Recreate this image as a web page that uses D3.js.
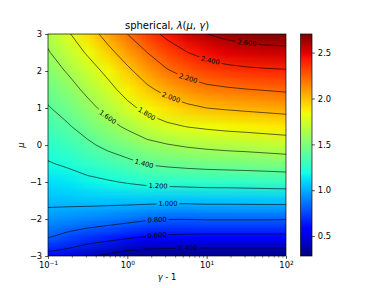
<!DOCTYPE html>
<html>
<head>
<meta charset="utf-8">
<script src="https://cdn.jsdelivr.net/npm/d3@7"></script>
<style>
  html, body { margin: 0; padding: 0; background: #fff; }
  svg { display: block; font-family: "DejaVu Sans", sans-serif; }
</style>
</head>
<body>
<svg id="chart" width="384" height="288"></svg>
<script>
// grid columns: log10(gamma - 1), rows: mu (top -> bottom)
const logGamma = [-1, -0.75, -0.5, -0.25, 0, 0.25, 0.5, 0.75, 1, 1.25, 1.5, 1.75, 2];
const muRows   = [3, 2.5, 2, 1.5, 1, 0.5, 0, -0.5, -1, -1.5, -2, -2.5, -3];

// lambda(mu, gamma), one row per mu value
const lambdaGrid = [
  [1.650, 1.780, 1.920, 2.060, 2.200, 2.330, 2.440, 2.530, 2.600, 2.645, 2.675, 2.695, 2.703], // mu = 3
  [1.587, 1.700, 1.820, 1.950, 2.080, 2.200, 2.310, 2.395, 2.460, 2.500, 2.522, 2.535, 2.544], // 2.5
  [1.520, 1.615, 1.720, 1.840, 1.965, 2.085, 2.185, 2.255, 2.310, 2.345, 2.365, 2.377, 2.385], // 2
  [1.455, 1.534, 1.639, 1.743, 1.866, 1.968, 2.051, 2.114, 2.157, 2.178, 2.196, 2.209, 2.224], // 1.5
  [1.389, 1.460, 1.552, 1.650, 1.754, 1.848, 1.911, 1.965, 2.000, 2.017, 2.031, 2.044, 2.057], // 1
  [1.323, 1.385, 1.464, 1.549, 1.625, 1.706, 1.767, 1.804, 1.828, 1.847, 1.860, 1.874, 1.888], // 0.5
  [1.257, 1.303, 1.372, 1.439, 1.495, 1.554, 1.591, 1.620, 1.641, 1.658, 1.670, 1.686, 1.702], // 0
  [1.190, 1.222, 1.269, 1.316, 1.360, 1.412, 1.434, 1.450, 1.462, 1.470, 1.477, 1.486, 1.498], // -0.5
  [1.114, 1.133, 1.163, 1.185, 1.212, 1.238, 1.251, 1.259, 1.267, 1.269, 1.274, 1.280, 1.286], // -1
  [1.039, 1.042, 1.047, 1.048, 1.049, 1.047, 1.041, 1.042, 1.048, 1.048, 1.050, 1.052, 1.055], // -1.5
  [0.936, 0.918, 0.898, 0.877, 0.851, 0.819, 0.806, 0.806, 0.813, 0.813, 0.813, 0.813, 0.809], // -2
  [0.804, 0.747, 0.697, 0.658, 0.619, 0.584, 0.563, 0.556, 0.550, 0.550, 0.550, 0.550, 0.552], // -2.5
  [0.540, 0.500, 0.420, 0.367, 0.310, 0.288, 0.289, 0.285, 0.286, 0.286, 0.285, 0.285, 0.283]  // -3
];

const contourLevels = [0.4, 0.6, 0.8, 1.0, 1.2, 1.4, 1.6, 1.8, 2.0, 2.2, 2.4, 2.6];

// where the inline contour labels sit (level, gamma - 1, mu)
const labelLevels = [2.6, 2.4, 2.2, 2.0, 1.8, 1.6, 1.4, 1.2, 1.0, 0.8, 0.6, 0.4];
const labelGamma  = [32.2, 11.0, 5.82, 3.55, 1.72, 0.555, 1.62, 2.44, 3.26, 2.37, 2.37, 5.82];
const labelMu     = [2.757, 2.243, 1.784, 1.27, 0.811, 0.73, -0.514, -1.135, -1.662, -2.014, -2.432, -2.784];

const xTicks    = [0.1, 1, 10, 100];
const xTickExps = ["\u22121", "0", "1", "2"];
const yTicks    = [-3, -2, -1, 0, 1, 2, 3];
const cbTicks   = [0.5, 1.0, 1.5, 2.0, 2.5];

// ---------------------------------------------------------------
const svg = d3.select("#chart");
const defs = svg.append("defs");
const PT = 60 / 72;                 // figure dpi 60
const tickFont = 10 * PT;

const x = d3.scaleLog().domain([0.1, 100]).range([48, 286]);
const y = d3.scaleLinear().domain([-3, 3]).range([256, 34]);

// matplotlib "jet"
const jr = d3.scaleLinear().domain([0, 0.35, 0.66, 0.89, 1]).range([0, 0, 1, 1, 0.5]).clamp(true);
const jg = d3.scaleLinear().domain([0, 0.125, 0.375, 0.64, 0.91, 1]).range([0, 0, 1, 1, 0, 0]).clamp(true);
const jb = d3.scaleLinear().domain([0, 0.11, 0.34, 0.65, 1]).range([0.5, 1, 1, 0, 0]).clamp(true);
const jet = t => d3.rgb(jr(t) * 255, jg(t) * 255, jb(t) * 255);

const flat = lambdaGrid.flat();
const [vmin, vmax] = d3.extent(flat);
const color = d3.scaleSequential(jet).domain([vmin, vmax]);

const nx = logGamma.length, ny = muRows.length;
const du = logGamma[1] - logGamma[0];
const dmu = muRows[0] - muRows[1];

defs.append("clipPath").attr("id", "plotClip")
  .append("rect")
  .attr("x", x.range()[0]).attr("y", y.range()[1])
  .attr("width", x.range()[1] - x.range()[0])
  .attr("height", y.range()[0] - y.range()[1]);

// 1) heat map: one pixel per grid cell, smoothed when scaled up
const cv = document.createElement("canvas");
cv.width = nx; cv.height = ny;
const ctx = cv.getContext("2d");
const img = ctx.createImageData(nx, ny);
lambdaGrid.forEach((row, j) => row.forEach((v, i) => {
  const c = d3.rgb(color(v)), k = (j * nx + i) * 4;
  img.data[k] = c.r; img.data[k + 1] = c.g; img.data[k + 2] = c.b; img.data[k + 3] = 255;
}));
ctx.putImageData(img, 0, 0);

const plot = svg.append("g").attr("clip-path", "url(#plotClip)");
const ix0 = x(10 ** (logGamma[0] - du / 2)), ix1 = x(10 ** (logGamma[nx - 1] + du / 2));
const iy0 = y(muRows[0] + dmu / 2), iy1 = y(muRows[ny - 1] - dmu / 2);
plot.append("image")
  .attr("href", cv.toDataURL())
  .attr("x", ix0).attr("y", iy0)
  .attr("width", ix1 - ix0).attr("height", iy1 - iy0)
  .attr("preserveAspectRatio", "none");

// 2) contour lines
const contours = d3.contours().size([nx, ny]).thresholds(contourLevels)(flat);
const toPx = (cx, cy) => [
  x(10 ** (logGamma[0] + (cx - 0.5) * du)),
  y(muRows[0] - (cy - 0.5) * dmu)
];
const path = d3.geoPath(d3.geoTransform({
  point(px, py) { const p = toPx(px, py); this.stream.point(p[0], p[1]); }
}));

const mask = defs.append("mask").attr("id", "lblMask")
  .attr("maskUnits", "userSpaceOnUse")
  .attr("x", 0).attr("y", 0).attr("width", 384).attr("height", 288);
mask.append("rect").attr("width", 384).attr("height", 288).attr("fill", "#fff");

plot.append("g").attr("mask", "url(#lblMask)")
  .selectAll("path")
  .data(contours)
  .join("path")
  .attr("d", path)
  .attr("fill", "none")
  .attr("stroke", "#000")
  .attr("stroke-width", 0.6);

// 3) inline labels, placed on the nearest point of their contour
const labelG = svg.append("g");
labelLevels.forEach((lev, n) => {
  const c = contours.find(d => Math.abs(d.value - lev) < 1e-6);
  if (!c) return;
  const tx = x(labelGamma[n]), ty = y(labelMu[n]);
  let best = null;
  c.coordinates.forEach(poly => poly.forEach(ring => {
    const pts = ring.map(p => toPx(p[0], p[1]));
    for (let k = 0; k < pts.length - 1; k++) {
      const [ax, ay] = pts[k], [bx, by] = pts[k + 1];
      const dx = bx - ax, dy = by - ay, L2 = dx * dx + dy * dy;
      if (!L2) continue;
      const t = Math.max(0, Math.min(1, ((tx - ax) * dx + (ty - ay) * dy) / L2));
      const qx = ax + t * dx, qy = ay + t * dy;
      const d2 = (qx - tx) ** 2 + (qy - ty) ** 2;
      if (!best || d2 < best.d2) best = { d2, qx, qy, dx, dy };
    }
  }));
  if (!best) return;
  let ang = Math.atan2(best.dy, best.dx) * 180 / Math.PI;
  if (ang > 90) ang -= 180;
  if (ang < -90) ang += 180;
  const tr = `translate(${best.qx},${best.qy}) rotate(${ang})`;
  const t = labelG.append("text")
    .attr("transform", tr)
    .attr("text-anchor", "middle")
    .attr("dominant-baseline", "central")
    .attr("font-size", 8 * PT)
    .attr("fill", "#000")
    .text(d3.format(".3f")(lev));
  const w = t.node().getComputedTextLength() + 4;
  mask.append("rect")
    .attr("transform", tr)
    .attr("x", -w / 2).attr("y", -4)
    .attr("width", w).attr("height", 8)
    .attr("fill", "#000");
});

// 4) axes
const tickLen = 3.5 * PT, minorLen = 2 * PT;
const yAxis = svg.append("g")
  .attr("transform", `translate(${x.range()[0]},0)`)
  .call(d3.axisLeft(y).tickValues(yTicks).tickSize(tickLen).tickPadding(3.5 * PT)
    .tickFormat(d => d < 0 ? "\u2212" + Math.abs(d) : d));
yAxis.select(".domain").remove();
yAxis.selectAll("text").attr("font-size", tickFont).attr("font-family", "DejaVu Sans").attr("fill", "#000");
yAxis.selectAll("line").attr("stroke-width", 0.8 * PT);

const minors = [];
[0.1, 1, 10].forEach(b => d3.range(2, 10).forEach(m => minors.push(b * m)));
const xMinor = svg.append("g")
  .attr("transform", `translate(0,${y.range()[0]})`)
  .call(d3.axisBottom(x).tickValues(minors).tickSize(minorLen).tickFormat(""));
xMinor.select(".domain").remove();
xMinor.selectAll("line").attr("stroke-width", 0.6 * PT);

const xAxis = svg.append("g")
  .attr("transform", `translate(0,${y.range()[0]})`)
  .call(d3.axisBottom(x).tickValues(xTicks).tickSize(tickLen).tickFormat(""));
xAxis.select(".domain").remove();
xAxis.selectAll("line").attr("stroke-width", 0.8 * PT);
xAxis.selectAll(".tick").append("text")
  .attr("y", 12.3)
  .attr("text-anchor", "middle")
  .attr("font-size", tickFont)
  .attr("font-family", "DejaVu Sans")
  .attr("fill", "#000")
  .each(function (d, i) {
    const t = d3.select(this);
    t.append("tspan").text("10");
    t.append("tspan").attr("font-size", tickFont * 0.7).attr("dy", -3.4).text(xTickExps[i]);
  });

// frame
svg.append("rect")
  .attr("x", x.range()[0]).attr("y", y.range()[1])
  .attr("width", x.range()[1] - x.range()[0])
  .attr("height", y.range()[0] - y.range()[1])
  .attr("fill", "none").attr("stroke", "#000").attr("stroke-width", 0.8 * PT);

// labels
svg.append("text")
  .attr("x", (x.range()[0] + x.range()[1]) / 2).attr("y", 279.5)
  .attr("text-anchor", "middle").attr("font-size", tickFont)
  .call(t => {
    t.append("tspan").attr("font-style", "italic").text("\u03b3");
    t.append("tspan").text(" - 1");
  });
svg.append("text")
  .attr("transform", "translate(23.5,145) rotate(-90)")
  .attr("text-anchor", "middle").attr("font-size", tickFont)
  .attr("font-style", "italic")
  .text("\u03bc");

svg.append("text")
  .attr("x", (x.range()[0] + x.range()[1]) / 2).attr("y", 28.5)
  .attr("text-anchor", "middle").attr("font-size", 12 * PT)
  .call(t => {
    t.append("tspan").text("spherical, ");
    t.append("tspan").attr("font-style", "italic").text("\u03bb");
    t.append("tspan").text("(");
    t.append("tspan").attr("font-style", "italic").text("\u03bc");
    t.append("tspan").text(", ");
    t.append("tspan").attr("font-style", "italic").text("\u03b3");
    t.append("tspan").text(")");
  });

// 5) colour bar
const cbX = 300.5, cbW = 11.5;
const cb = d3.scaleLinear().domain([vmin, vmax]).range([y.range()[0], y.range()[1]]);
const grad = defs.append("linearGradient").attr("id", "cbGrad")
  .attr("x1", 0).attr("y1", 1).attr("x2", 0).attr("y2", 0);
grad.selectAll("stop")
  .data(d3.range(0, 1.0001, 1 / 64))
  .join("stop")
  .attr("offset", d => d)
  .attr("stop-color", d => jet(d).formatHex());
svg.append("rect")
  .attr("x", cbX).attr("y", cb.range()[1])
  .attr("width", cbW).attr("height", cb.range()[0] - cb.range()[1])
  .attr("fill", "url(#cbGrad)")
  .attr("stroke", "#000").attr("stroke-width", 0.8 * PT);
const cbAxis = svg.append("g")
  .attr("transform", `translate(${cbX + cbW},0)`)
  .call(d3.axisRight(cb).tickValues(cbTicks).tickSize(tickLen).tickPadding(3.5 * PT)
    .tickFormat(d3.format(".1f")));
cbAxis.select(".domain").remove();
cbAxis.selectAll("text").attr("font-size", tickFont).attr("font-family", "DejaVu Sans").attr("fill", "#000");
cbAxis.selectAll("line").attr("stroke-width", 0.8 * PT);
</script>
</body>
</html>
